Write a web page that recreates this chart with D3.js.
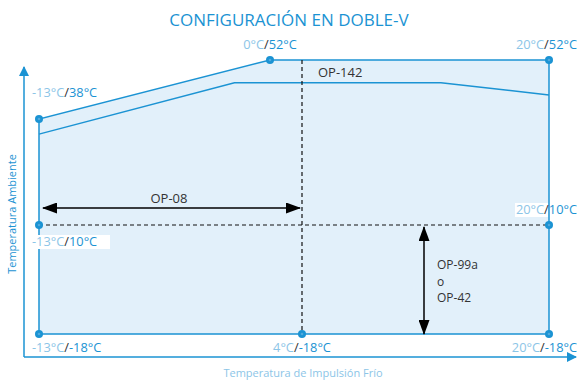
<!DOCTYPE html>
<meta charset="utf-8">
<script src="https://d3js.org/d3.v7.min.js"></script>
<style>
  body { margin: 0; background: #fff; }
  text { font-family: "Open Sans", "Noto Sans", sans-serif; }
</style>
<div id="chart"></div>
<script>
// schematic breakpoints (supply cold temp on x, ambient temp on y)
var xTemps = [-13, 0, 4, 20];
var yTemps = [-18, 10, 38, 52];

// operating envelope
var envelopeX = [-13, -13, 0, 20, 20];
var envelopeY = [-18, 38, 52, 52, -18];

// OP-142 limit line
var op142X = [-13, -2, 13, 20];
var op142Y = [34, 46.6, 46.6, 43.7];

// labelled corner points
var pointX = [-13, 0, 20, -13, 20, -13, 4, 20];
var pointY = [38, 52, 52, 10, 10, -18, -18, -18];
var pointLight = ["-13°C", "0°C", "20°C", "-13°C", "20°C", "-13°C", "4°C", "20°C"];
var pointDark = ["38°C", "52°C", "52°C", "10°C", "10°C", "-18°C", "-18°C", "-18°C"];

var blue = "#1b93d3", light = "#8cc5e7", fill = "#e2f0fa", dark = "#333";

var width = 577, height = 381;
var svg = d3.select("#chart").append("svg")
  .attr("width", width).attr("height", height);

// piecewise scales, the drawing is not to scale
var x = d3.scaleLinear().domain(xTemps).range([39, 270, 302, 549]);
var y = d3.scaleLinear().domain(yTemps).range([334, 225, 119, 60]);

var defs = svg.append("defs");
defs.append("marker").attr("id", "head")
  .attr("viewBox", "0 0 15 11").attr("refX", 14).attr("refY", 5.5)
  .attr("markerWidth", 15).attr("markerHeight", 11)
  .attr("markerUnits", "userSpaceOnUse")
  .attr("orient", "auto-start-reverse")
  .append("path").attr("d", "M0,0 L15,5.5 L0,11 Z").attr("fill", "#000");
defs.append("marker").attr("id", "axhead")
  .attr("viewBox", "0 0 10 10").attr("refX", 9).attr("refY", 5)
  .attr("markerWidth", 12).attr("markerHeight", 10)
  .attr("markerUnits", "userSpaceOnUse")
  .attr("orient", "auto")
  .append("path").attr("d", "M0,0 L10,5 L0,10 Z").attr("fill", blue);

// title
svg.append("text").attr("x", 289).attr("y", 26)
  .attr("text-anchor", "middle").attr("fill", blue)
  .style("font-size", "17px").text("CONFIGURACIÓN EN DOBLE-V");

// axes (L shape with arrows)
svg.append("path")
  .attr("d", "M24,357 L24,67")
  .attr("stroke", blue).attr("stroke-width", 1.5).attr("fill", "none")
  .attr("marker-end", "url(#axhead)");
svg.append("path")
  .attr("d", "M24,357 L576,357")
  .attr("stroke", blue).attr("stroke-width", 1.5).attr("fill", "none")
  .attr("marker-end", "url(#axhead)");

svg.append("text")
  .attr("transform", "translate(16,214) rotate(-90)")
  .attr("text-anchor", "middle").attr("fill", blue)
  .style("font-size", "11px").text("Temperatura Ambiente");
svg.append("text").attr("x", 303).attr("y", 377)
  .attr("text-anchor", "middle").attr("fill", light)
  .style("font-size", "11px").text("Temperatura de Impulsión Frío");

// envelope
var env = envelopeX.map(function (d, i) { return [x(d), y(envelopeY[i])]; });
svg.append("path")
  .attr("d", d3.line()(env) + "Z")
  .attr("fill", fill).attr("stroke", blue).attr("stroke-width", 1.5);

// OP-142 line
var op = op142X.map(function (d, i) { return [x(d), y(op142Y[i])]; });
svg.append("path")
  .attr("d", d3.line()(op))
  .attr("fill", "none").attr("stroke", blue).attr("stroke-width", 1.5);

// dashed reference lines
svg.append("line")
  .attr("x1", x(4)).attr("x2", x(4)).attr("y1", y(52)).attr("y2", y(-18))
  .attr("stroke", "#111").attr("stroke-width", 1.2).attr("stroke-dasharray", "4,3");
svg.append("line")
  .attr("x1", x(-13)).attr("x2", x(20)).attr("y1", y(10)).attr("y2", y(10))
  .attr("stroke", "#111").attr("stroke-width", 1.2).attr("stroke-dasharray", "4,3");

// OP-08 horizontal arrow
svg.append("line")
  .attr("x1", x(-13) + 4).attr("x2", x(4) - 2).attr("y1", 208).attr("y2", 208)
  .attr("stroke", "#000").attr("stroke-width", 1.5)
  .attr("marker-start", "url(#head)").attr("marker-end", "url(#head)");
svg.append("text").attr("x", 169).attr("y", 203)
  .attr("text-anchor", "middle").attr("fill", dark)
  .style("font-size", "13px").text("OP-08");

// OP-99a / OP-42 vertical arrow
svg.append("line")
  .attr("x1", 424).attr("x2", 424).attr("y1", y(10) + 2).attr("y2", y(-18))
  .attr("stroke", "#000").attr("stroke-width", 1.5)
  .attr("marker-start", "url(#head)").attr("marker-end", "url(#head)");
["OP-99a", "o", "OP-42"].forEach(function (t, i) {
  svg.append("text").attr("x", 437).attr("y", 269 + i * 16.5)
    .attr("fill", dark).style("font-size", "12px").text(t);
});

svg.append("text").attr("x", 318).attr("y", 77)
  .attr("fill", dark).style("font-size", "13px").text("OP-142");

// corner labels
var labelPos = [
  {dx: -7, dy: -22, anchor: "start"},
  {dx: 0, dy: -11, anchor: "middle"},
  {dx: 28, dy: -11, anchor: "end"},
  {dx: -7, dy: 21, anchor: "start", bg: [78, 14]},
  {dx: 28, dy: -11, anchor: "end", bg: [33, 14]},
  {dx: -7, dy: 18, anchor: "start"},
  {dx: 0, dy: 18, anchor: "middle"},
  {dx: 28, dy: 18, anchor: "end"}
];
pointX.forEach(function (d, i) {
  var p = labelPos[i], px = x(d), py = y(pointY[i]);
  if (p.bg) {
    var bx = p.anchor === "end" ? px + p.dx - 62 : px + p.dx;
    svg.append("rect").attr("x", bx).attr("y", py + p.dy - 11)
      .attr("width", p.bg[0]).attr("height", p.bg[1]).attr("fill", "#fff");
  }
  var t = svg.append("text").attr("x", px + p.dx).attr("y", py + p.dy)
    .attr("text-anchor", p.anchor).style("font-size", "12.8px");
  t.append("tspan").attr("fill", light).text(pointLight[i]);
  t.append("tspan").attr("fill", dark).text("/");
  t.append("tspan").attr("fill", blue).text(pointDark[i]);
});

// markers
pointX.forEach(function (d, i) {
  svg.append("circle").attr("cx", x(d)).attr("cy", y(pointY[i]))
    .attr("r", 4).attr("fill", blue);
  svg.append("circle").attr("cx", x(d)).attr("cy", y(pointY[i]))
    .attr("r", 1.3).attr("fill", "#4fa9dd");
});
</script>
